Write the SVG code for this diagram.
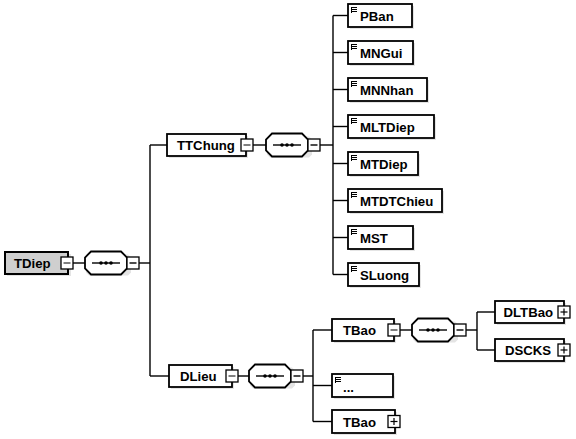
<svg xmlns="http://www.w3.org/2000/svg" width="576" height="439" viewBox="0 0 576 439">
<style>
.bx{fill:#fff;stroke:#000;stroke-width:1.8}
.sh{fill:#e4e4e4;stroke:none}
.ln{fill:none;stroke:#000;stroke-width:1.4}
.sq{fill:#fff;stroke:#000;stroke-width:1.3}
.t{font-family:"Liberation Sans",Arial,sans-serif;font-weight:bold;font-size:13.2px;fill:#000}
.ic{fill:none;stroke:#000;stroke-width:1}
</style>
<defs>
<g id="seq">
<polygon points="3,2 42,2 45,5 45,20 42,23 3,23 0,20 0,5" class="sh" transform="translate(1,1)"/>
<polygon points="6,0 36,0 42,6 42,17 36,23 6,23 0,17 0,6" class="bx"/>
<line x1="7" y1="11.5" x2="35" y2="11.5" class="ln"/>
<circle cx="16" cy="11.5" r="1.8"/><circle cx="21" cy="11.5" r="1.8"/><circle cx="26" cy="11.5" r="1.8"/>
<rect x="42" y="5.5" width="12" height="12" class="sq"/>
<line x1="44.5" y1="11.5" x2="51.5" y2="11.5" class="ln" stroke-width="1"/>
</g>
<g id="minus">
<rect x="0" y="0" width="12" height="12" class="sq"/>
<line x1="2.5" y1="6" x2="9.5" y2="6" stroke="#000" stroke-width="1"/>
</g>
<g id="plus">
<rect x="0" y="0" width="12" height="12" class="sq"/>
<line x1="2.5" y1="6" x2="9.5" y2="6" stroke="#000" stroke-width="1.2"/>
<line x1="6" y1="2.5" x2="6" y2="9.5" stroke="#000" stroke-width="1.2"/>
</g>
<g id="icon">
<path d="M0,0.5H6M0,2.5H6M0,4.5H6M0.5,0V6" class="ic"/>
</g>
</defs>

<g id="connectors">
<line x1="139" y1="263" x2="150" y2="263" class="ln"/>
<line x1="150" y1="145" x2="150" y2="376" class="ln"/>
<line x1="150" y1="145" x2="167" y2="145" class="ln"/>
<line x1="150" y1="376" x2="169" y2="376" class="ln"/>
<line x1="72" y1="263" x2="85" y2="263" class="ln"/>
<line x1="253" y1="145" x2="266" y2="145" class="ln"/>
<line x1="320" y1="145" x2="333" y2="145" class="ln"/>
<line x1="333" y1="15.5" x2="333" y2="274.5" class="ln"/>
<line x1="333" y1="15.5" x2="348" y2="15.5" class="ln"/>
<line x1="333" y1="52.5" x2="348" y2="52.5" class="ln"/>
<line x1="333" y1="89.5" x2="348" y2="89.5" class="ln"/>
<line x1="333" y1="126.5" x2="348" y2="126.5" class="ln"/>
<line x1="333" y1="163.5" x2="348" y2="163.5" class="ln"/>
<line x1="333" y1="200.5" x2="348" y2="200.5" class="ln"/>
<line x1="333" y1="237.5" x2="348" y2="237.5" class="ln"/>
<line x1="333" y1="274.5" x2="348" y2="274.5" class="ln"/>
<line x1="238" y1="376" x2="249" y2="376" class="ln"/>
<line x1="303" y1="376" x2="313" y2="376" class="ln"/>
<line x1="313" y1="330" x2="313" y2="421.5" class="ln"/>
<line x1="313" y1="330" x2="332" y2="330" class="ln"/>
<line x1="313" y1="385.5" x2="332" y2="385.5" class="ln"/>
<line x1="313" y1="421.5" x2="332" y2="421.5" class="ln"/>
<line x1="400" y1="330" x2="412" y2="330" class="ln"/>
<line x1="466" y1="330" x2="477" y2="330" class="ln"/>
<line x1="477" y1="312" x2="477" y2="350" class="ln"/>
<line x1="477" y1="312" x2="495" y2="312" class="ln"/>
<line x1="477" y1="350" x2="495" y2="350" class="ln"/>
</g>

<g id="TDiep">
<rect x="7" y="254" width="64" height="22" class="sh"/>
<rect x="5" y="252" width="63" height="22" fill="#cfcfcf" stroke="#000" stroke-width="2"/>
<text x="14" y="268" class="t">TDiep</text>
<use href="#minus" x="61" y="257"/>
</g>
<g id="seq1"><use href="#seq" x="85" y="251.5"/></g>

<g id="TTChung">
<rect x="169" y="136" width="79" height="22" class="sh"/>
<rect x="167" y="134" width="79" height="22" class="bx"/>
<text x="177" y="150" class="t">TTChung</text>
<use href="#minus" x="241" y="139"/>
</g>
<g id="seq2"><use href="#seq" x="266" y="133.5"/></g>

<g id="PBan"><rect x="350" y="6" width="64" height="23" class="sh"/><rect x="348" y="4" width="64" height="23" class="bx"/><use href="#icon" x="351" y="7"/><text x="360" y="20.5" class="t">PBan</text></g>
<g id="MNGui"><rect x="350" y="43" width="65" height="23" class="sh"/><rect x="348" y="41" width="65" height="23" class="bx"/><use href="#icon" x="351" y="44"/><text x="360" y="57.5" class="t">MNGui</text></g>
<g id="MNNhan"><rect x="350" y="80" width="79" height="23" class="sh"/><rect x="348" y="78" width="79" height="23" class="bx"/><use href="#icon" x="351" y="81"/><text x="360" y="94.5" class="t">MNNhan</text></g>
<g id="MLTDiep"><rect x="350" y="117" width="86" height="23" class="sh"/><rect x="348" y="115" width="86" height="23" class="bx"/><use href="#icon" x="351" y="118"/><text x="360" y="131.5" class="t">MLTDiep</text></g>
<g id="MTDiep"><rect x="350" y="154" width="70" height="23" class="sh"/><rect x="348" y="152" width="70" height="23" class="bx"/><use href="#icon" x="351" y="155"/><text x="360" y="168.5" class="t">MTDiep</text></g>
<g id="MTDTChieu"><rect x="350" y="191" width="94" height="23" class="sh"/><rect x="348" y="189" width="94" height="23" class="bx"/><use href="#icon" x="351" y="192"/><text x="360" y="205.5" class="t">MTDTChieu</text></g>
<g id="MST"><rect x="350" y="228" width="65" height="23" class="sh"/><rect x="348" y="226" width="65" height="23" class="bx"/><use href="#icon" x="351" y="229"/><text x="360" y="242.5" class="t">MST</text></g>
<g id="SLuong"><rect x="350" y="265" width="71" height="23" class="sh"/><rect x="348" y="263" width="71" height="23" class="bx"/><use href="#icon" x="351" y="266"/><text x="360" y="279.5" class="t">SLuong</text></g>

<g id="DLieu">
<rect x="171" y="367" width="63" height="22" class="sh"/>
<rect x="169" y="365" width="63" height="22" class="bx"/>
<text x="180" y="381" class="t">DLieu</text>
<use href="#minus" x="226" y="370"/>
</g>
<g id="seq3"><use href="#seq" x="249" y="364.5"/></g>

<g id="TBao1">
<rect x="334" y="321" width="62" height="22" class="sh"/>
<rect x="332" y="319" width="62" height="22" class="bx"/>
<text x="343" y="335" class="t">TBao</text>
<use href="#minus" x="388" y="324"/>
</g>
<g id="seq4"><use href="#seq" x="412" y="318.5"/></g>

<g id="DLTBao">
<rect x="497" y="303" width="69" height="22" class="sh"/>
<rect x="495" y="301" width="69" height="22" class="bx"/>
<text x="503.5" y="317" class="t">DLTBao</text>
<use href="#plus" x="558" y="306"/>
</g>
<g id="DSCKS">
<rect x="497" y="341" width="69" height="22" class="sh"/>
<rect x="495" y="339" width="69" height="22" class="bx"/>
<text x="505" y="355" class="t">DSCKS</text>
<use href="#plus" x="558" y="344"/>
</g>

<g id="any">
<rect x="334" y="376" width="61" height="23" class="sh"/>
<rect x="332" y="374" width="61" height="23" class="bx"/>
<use href="#icon" x="335" y="377"/>
<text x="343" y="392" class="t">...</text>
</g>

<g id="TBao2">
<rect x="334" y="412" width="63" height="23" class="sh"/>
<rect x="332" y="410" width="63" height="23" class="bx"/>
<text x="343" y="426.5" class="t">TBao</text>
<use href="#plus" x="388" y="415.5"/>
</g>
</svg>
